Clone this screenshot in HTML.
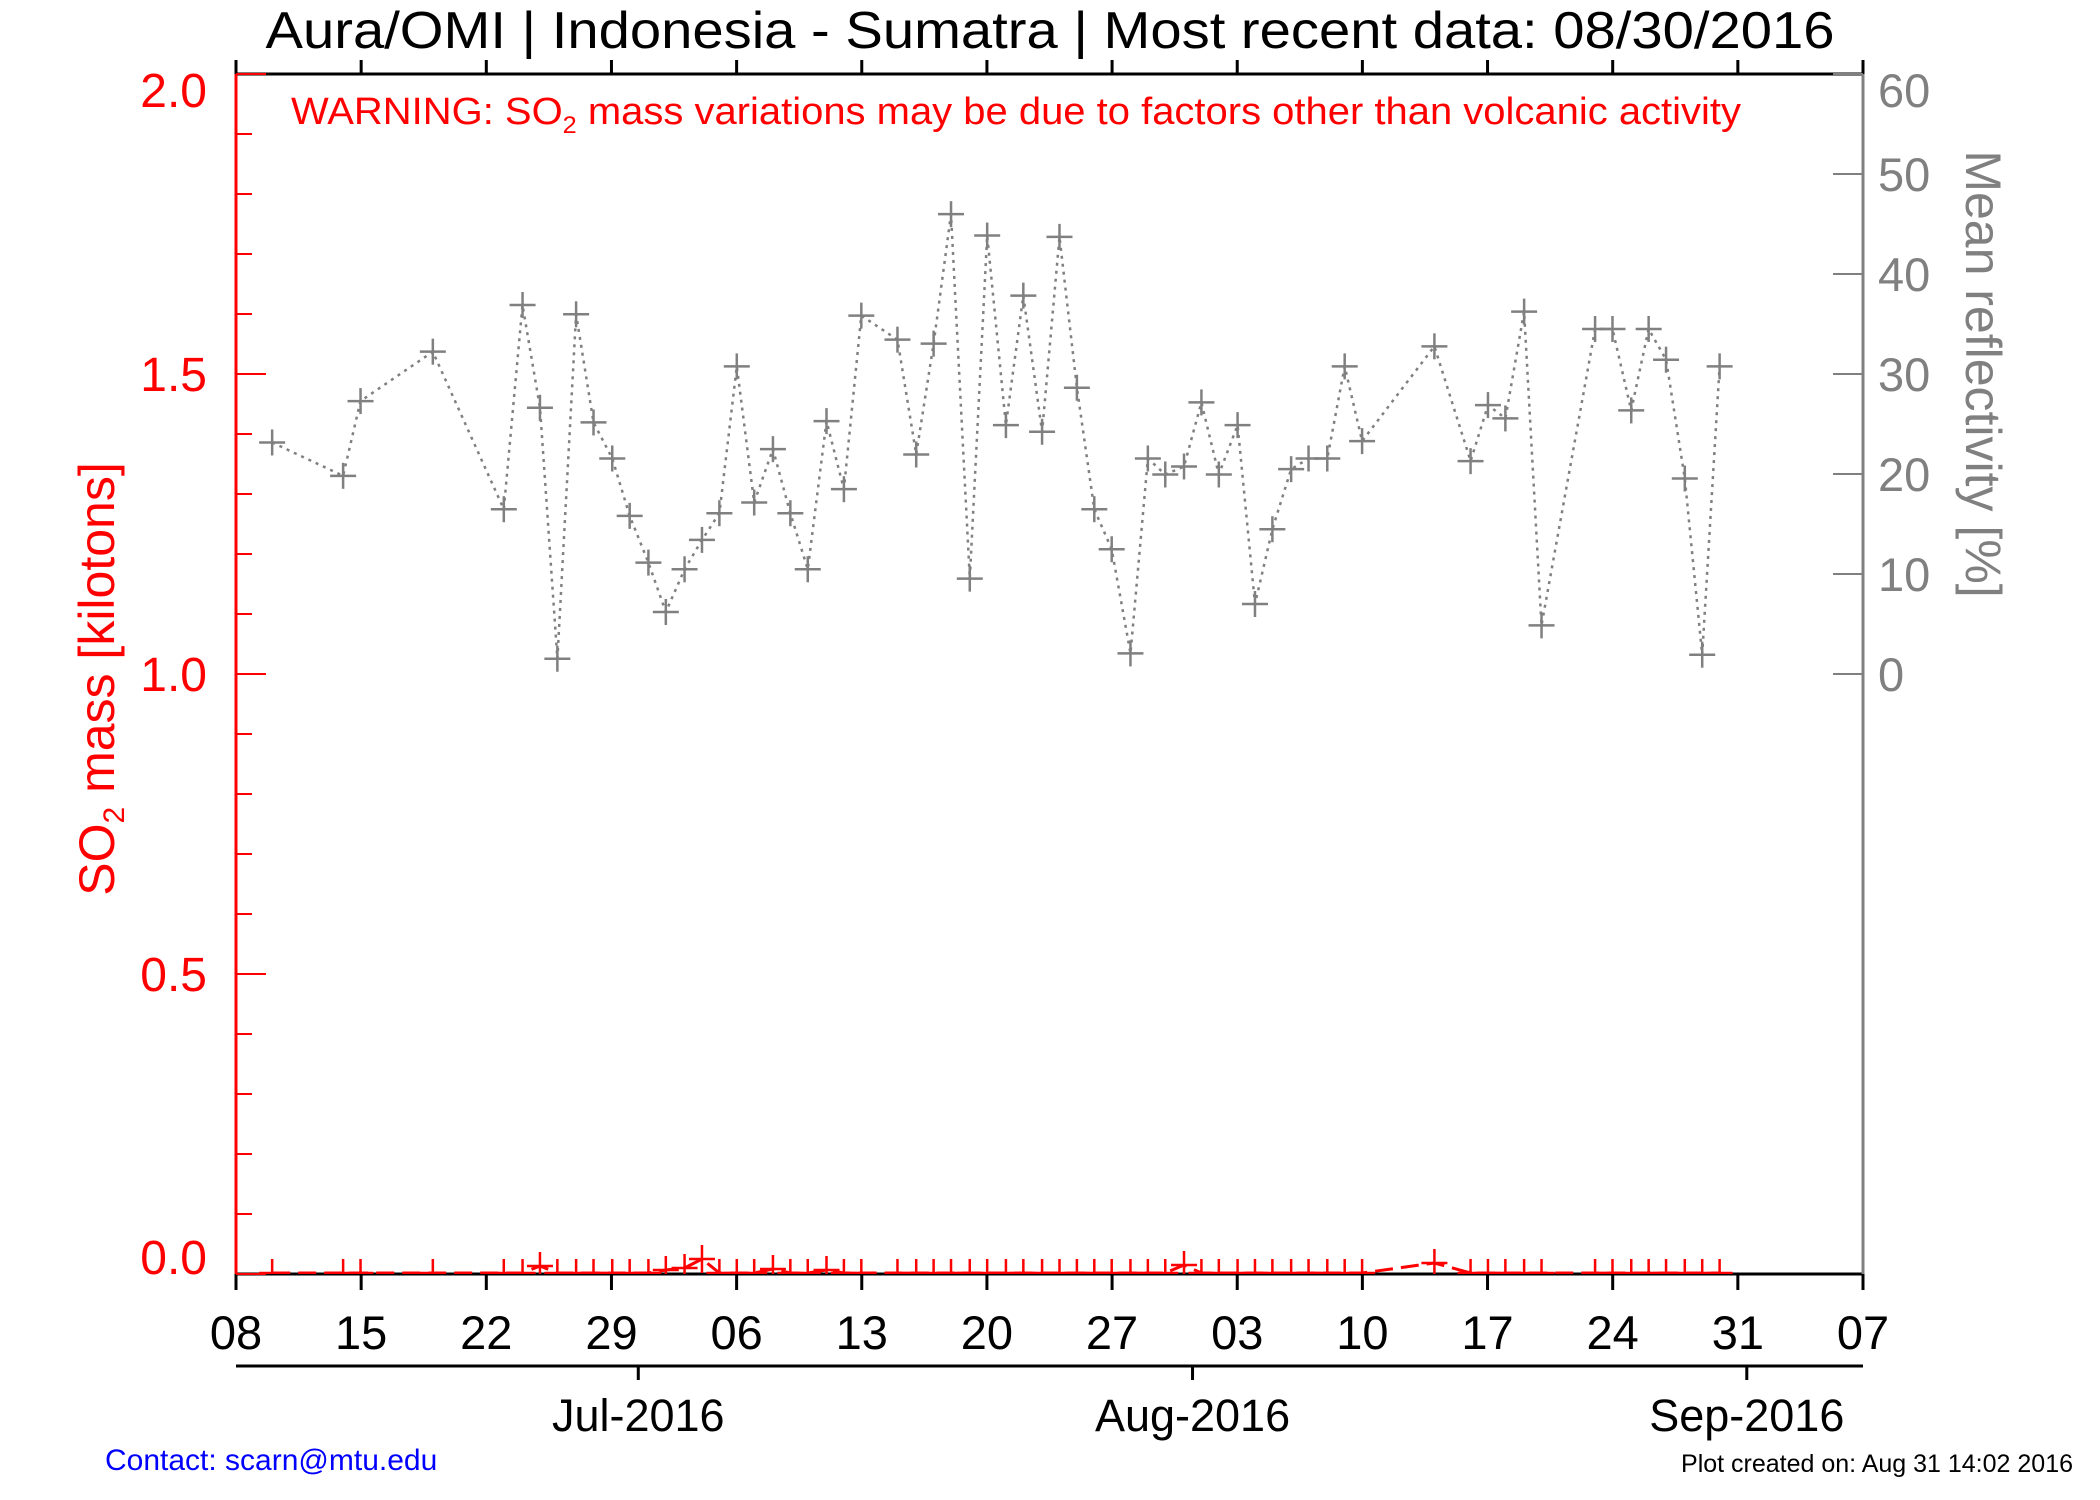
<!DOCTYPE html>
<html><head><meta charset="utf-8"><style>
html,body{margin:0;padding:0;background:#fff;}
svg{display:block;font-family:"Liberation Sans",Arial,sans-serif;}
</style></head><body>
<svg id="s" width="2100" height="1500" xmlns="http://www.w3.org/2000/svg">
<defs><clipPath id="c"><rect x="236" y="74" width="1627" height="1200"/></clipPath></defs>
<rect width="2100" height="1500" fill="#fff"/>
<text x="1050" y="48" font-size="52" text-anchor="middle" textLength="1569" lengthAdjust="spacingAndGlyphs">Aura/OMI | Indonesia - Sumatra | Most recent data: 08/30/2016</text>
<text x="291" y="124" font-size="38" fill="#f00" textLength="1450" lengthAdjust="spacingAndGlyphs">WARNING: SO<tspan font-size="24" dy="9">2</tspan><tspan dy="-9"> mass variations may be due to factors other than volcanic activity</tspan></text>
<g id="g"></g>
<text transform="translate(114,679) rotate(-90)" font-size="50" fill="#f00" text-anchor="middle">SO<tspan font-size="30" dy="10">2</tspan><tspan dy="-10"> mass [kilotons]</tspan></text>
<text transform="translate(1966,374) rotate(90)" font-size="50" fill="#808080" text-anchor="middle">Mean reflectivity [%]</text>
<text x="105" y="1470" font-size="30" fill="#00f">Contact: scarn@mtu.edu</text>
<text x="2073" y="1472" font-size="25" fill="#000" text-anchor="end">Plot created on: Aug 31 14:02 2016</text>
</svg>
<script>
var g=document.getElementById('g'),h='';
function L(x1,y1,x2,y2,c,w,extra){h+='<line x1="'+x1+'" y1="'+y1+'" x2="'+x2+'" y2="'+y2+'" stroke="'+c+'" stroke-width="'+w+'" '+(extra||'')+'/>';}
function T(x,y,t,s,c,a){h+='<text x="'+x+'" y="'+y+'" font-size="'+s+'" fill="'+c+'" text-anchor="'+a+'">'+t+'</text>';}
var X0=236,X1=1863,Y0=74,Y1=1274,pd=1627/91;
L(X0,Y1,X1,Y1,'#000',3);L(X0,Y0,X1,Y0,'#000',3);
L(X1,Y0,X1,Y1,'#808080',3);
var labs=['08','15','22','29','06','13','20','27','03','10','17','24','31','07'];
for(var i=0;i<14;i++){var x=X0+i*7*pd;L(x,Y1,x,Y1+16,'#000',3);L(x,Y0,x,Y0-14,'#000',3);T(x,1349,labs[i],47,'#000','middle');}
L(X0,1366,X1,1366,'#000',3);
[[22.5,'Jul-2016'],[53.5,'Aug-2016'],[84.5,'Sep-2016']].forEach(function(m){var x=X0+m[0]*pd;L(x,1366,x,1380,'#000',3);T(x,1431,m[1],45,'#000','middle');});
L(X0,Y0,X0,Y1,'#f00',3);
for(var k=0;k<=20;k++){var y=Y1-k*60;L(X0,y,X0+(k%5==0?30:16),y,'#f00',2);}
var ly=[1274,991,691,391,107];
['0.0','0.5','1.0','1.5','2.0'].forEach(function(t,i){T(207,ly[i],t,48,'#f00','end');});
for(var k=0;k<=6;k++){var y=674-k*100;L(X1-30,y,X1,y,'#808080',2);T(1878,(k==6?107:y+17),String(k*10),47,'#808080','start');}
var P=[[203,328],[256,353],[269,297],[323,260],[376,378],[390,225],[403,302],[416,490],[430,232],[443,313],[457,340],[470,383],[484,418],[497,455],[511,423],[524,401],[537,381],[550,271],[563,373],[577,333],[590,381],[603,423],[617,312],[630,363],[643,233],[670,251],[684,337],[697,254],[710,157],[724,430],[737,173],[751,315],[764,218],[778,320],[791,174],[804,287],[817,378],[830,408],[844,486],[857,340],[870,352],[884,346],[897,298],[910,352],[924,315],[937,449],[950,393],[964,348],[977,340],[991,340],[1004,271],[1017,327],[1071,256],[1098,342],[1111,300],[1124,310],[1138,230],[1151,465],[1191,243],[1204,243],[1218,304],[1231,243],[1244,266],[1258,355],[1271,487],[1284,271]];
var pts=P.map(function(p){return [X0+(p[0]-176)*1.339,Y0+(p[1]-52)*1.335];});
h+='<polyline fill="none" stroke="#808080" stroke-width="2.5" stroke-dasharray="3,5" points="'+pts.map(function(p){return p[0].toFixed(1)+','+p[1].toFixed(1)}).join(' ')+'"/>';
pts.forEach(function(p){L(p[0]-13,p[1],p[0]+13,p[1],'#808080',2.5);L(p[0],p[1]-13,p[0],p[1]+13,'#808080',2.5);});
var bump={403:7,524:14,884:8,1071:10,497:3,511:5,577:4,617:3};
var rp=pts.map(function(p,i){var b=bump[P[i][0]]||0;return [p[0],Y1-1-b];});
var rh='<g clip-path="url(#c)">';
rh+='<polyline fill="none" stroke="#f00" stroke-width="3" stroke-dasharray="18,8" points="'+rp.map(function(p){return p[0].toFixed(1)+','+p[1].toFixed(1)}).join(' ')+'"/>';
rp.forEach(function(p){rh+='<line x1="'+(p[0]-13)+'" y1="'+p[1]+'" x2="'+(p[0]+13)+'" y2="'+p[1]+'" stroke="#f00" stroke-width="2.5"/><line x1="'+p[0]+'" y1="'+(p[1]-14)+'" x2="'+p[0]+'" y2="'+(p[1]+14)+'" stroke="#f00" stroke-width="2.5"/>';});
rh+='</g>';
h+=rh;
g.innerHTML=h;
g.outerHTML=g.outerHTML;
</script>
</body></html>
